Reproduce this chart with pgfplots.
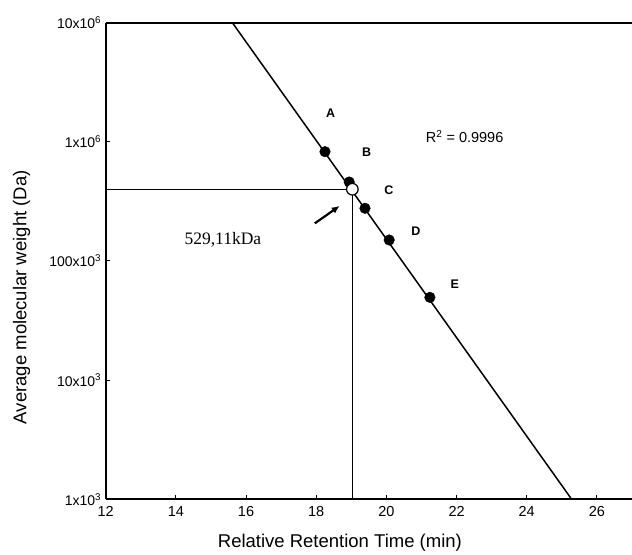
\documentclass[border=0pt]{standalone}
\usepackage{pgfplots}
\pgfplotsset{compat=1.18}
\usepackage{fontspec}
\setmainfont{Liberation Sans}
\newfontfamily\timesfont{Liberation Serif}
\usetikzlibrary{arrows.meta}

\begin{document}
\begin{tikzpicture}
\begin{axis}[
    name=ax,
    scale only axis,
    width=526.3pt, height=476.6pt,
    xmin=12, xmax=27,
    ymode=log, ymin=1e3, ymax=1e7,
    axis x line*=box, axis y line*=left,
    xtick={12,14,...,26},
    xtick pos=bottom,
    ytick={1e3,1e4,1e5,1e6,1e7},
    yticklabels={1x10\textsuperscript{3}, 10x10\textsuperscript{3}, 100x10\textsuperscript{3}, 1x10\textsuperscript{6}, 10x10\textsuperscript{6}},
    yminorticks=false,
    tick align=inside,
    major tick length=4pt,
    tick style={black, line width=1pt},
    axis line style={line width=1.8pt},
    /pgf/number format/assume math mode=true,
    xticklabel style={font=\fontsize{14.5}{16}\selectfont, yshift=-4pt},
    yticklabel style={font=\fontsize{14}{16}\selectfont, xshift=-1pt},
    xlabel={Relative Retention Time (min)},
    ylabel={Average molecular weight (Da)},
    xlabel style={at={(axis description cs:0.445,-0.102)}, anchor=base, font=\fontsize{18.5}{22}\selectfont},
    ylabel style={at={(axis description cs:-0.160,0.424)}, anchor=center, font=\fontsize{18.5}{22}\selectfont},
]

% regression line
\addplot[black, line width=1.5pt] coordinates {(15.61,1e7) (25.28,1e3)};

% read-off lines for the unknown sample
\addplot[black, line width=1.3pt] coordinates {(12,4.0e5) (19.03,4.0e5)};
\addplot[black, line width=1.3pt] coordinates {(19.03,1e3) (19.03,4.0e5)};

% standards A-E
\addplot[only marks, mark=*, mark size=5.3pt, black] coordinates {
    (18.25,8.27e5)
    (18.94,4.6e5)
    (19.39,2.77e5)
    (20.08,1.50e5)
    (21.24,4.95e4)
};

% sample
\addplot[only marks, mark=*, mark size=5.8pt, mark options={fill=white, draw=black, line width=1.2pt}] coordinates {(19.03,4.0e5)};

\node[font=\bfseries\fontsize{12.5}{14}\selectfont] at (axis cs:18.41,1.74e6) {A};
\node[font=\bfseries\fontsize{12.5}{14}\selectfont] at (axis cs:19.44,8.11e5) {B};
\node[font=\bfseries\fontsize{12.5}{14}\selectfont] at (axis cs:20.07,3.94e5) {C};
\node[font=\bfseries\fontsize{12.5}{14}\selectfont] at (axis cs:20.84,1.795e5) {D};
\node[font=\bfseries\fontsize{12.5}{14}\selectfont] at (axis cs:21.95,6.41e4) {E};
\node[font=\fontsize{14.5}{17}\selectfont] at (axis cs:22.23,1.10e6) {R\textsuperscript{2} = 0.9996};
\node[font=\timesfont\fontsize{17.5}{20}\selectfont] at (axis cs:15.34,1.5e5) {529,11kDa};

\draw[line width=2.2pt, -{Latex[length=8pt,width=7pt]}] (axis cs:17.96,2.07e5) -- (axis cs:18.67,2.90e5);
\end{axis}
\pgfresetboundingbox
\path[use as bounding box] ([shift={(-105.7pt,-55.7pt)}]ax.south west) rectangle ([shift={(0pt,22.7pt)}]ax.north east);
\end{tikzpicture}
\end{document}
